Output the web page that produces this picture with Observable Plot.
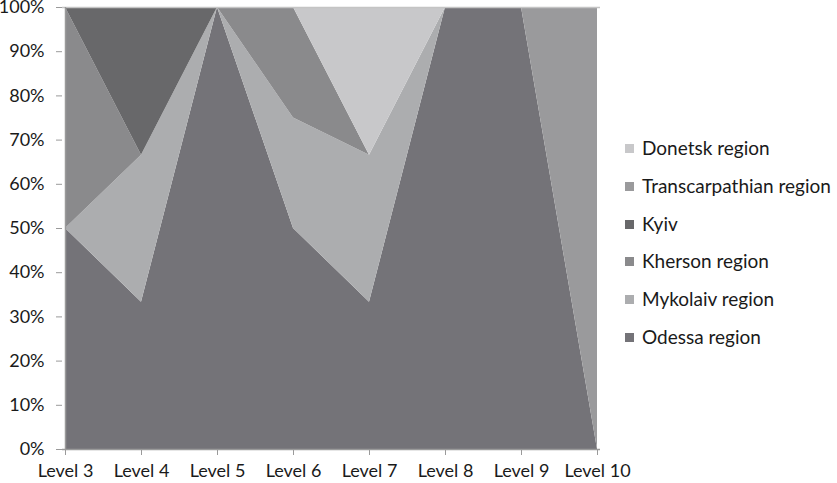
<!DOCTYPE html>
<html><head><meta charset="utf-8">
<script src="https://cdn.jsdelivr.net/npm/d3@7"></script>
<script src="https://cdn.jsdelivr.net/npm/@observablehq/plot@0.6"></script>
<style>
body{margin:0;background:#fff;overflow:hidden;}
#wrap{position:relative;width:837px;height:483px;font-family:Lato,sans-serif;color:#1a1a1a;}
#legend{position:absolute;left:625px;top:136px;font-size:19px;}
.item{height:37.8px;display:flex;align-items:flex-start;white-space:nowrap;}
.sw{width:9px;height:9px;margin-right:8px;margin-top:8px;}
</style></head>
<body><div id="wrap"><div id="legend"></div></div>
<script>
const levels = ["Level 3","Level 4","Level 5","Level 6","Level 7","Level 8","Level 9","Level 10"];
const regions = ["Odessa region","Mykolaiv region","Kherson region","Kyiv","Transcarpathian region","Donetsk region"];
const colors = ["#747378","#acadaf","#8a8a8c","#68686a","#9a9a9c","#c8c8ca"];
const odessa          = [50, 33.3, 100, 50, 33.3, 100, 100, 0];
const mykolaiv        = [0, 33.3, 0, 25, 33.3, 0, 0, 0];
const kherson         = [50, 0, 0, 25, 0, 0, 0, 0];
const kyiv            = [0, 33.4, 0, 0, 0, 0, 0, 0];
const transcarpathian = [0, 0, 0, 0, 0, 0, 0, 100];
const donetsk         = [0, 0, 0, 0, 33.4, 0, 0, 0];
const yTicks = [0,0.1,0.2,0.3,0.4,0.5,0.6,0.7,0.8,0.9,1];

const series = [odessa, mykolaiv, kherson, kyiv, transcarpathian, donetsk];
const data = [];
regions.forEach((r, i) => levels.forEach((l, j) => data.push({region: r, level: l, value: series[i][j]})));

const chart = Plot.plot({
  width: 837, height: 483,
  marginLeft: 62, marginRight: 237, marginTop: 7, marginBottom: 34,
  style: {fontFamily: "Lato, sans-serif", fontSize: "18px", color: "#1a1a1a", background: "#fff"},
  x: {type: "point", domain: levels, padding: 0, label: null},
  y: {domain: [0, 1], label: null},
  color: {domain: regions, range: colors},
  marks: [
    Plot.areaY(data, Plot.stackY({offset: "normalize", order: regions}, {x: "level", y: "value", z: "region", fill: "region", curve: "linear"})),
    Plot.ruleY([1], {stroke: "#c4c4c4", strokeWidth: 1.5}),
    Plot.ruleX([levels[0]], {stroke: "#9a9a9a", strokeWidth: 1.5}),
    Plot.ruleY([0], {stroke: "#9a9a9a", strokeWidth: 1.5}),
    Plot.axisY({ticks: yTicks, tickFormat: d3.format(".0%"), tickSize: 6, tickPadding: 12, stroke: "#9a9a9a", fill: "#1a1a1a", fontSize: 18}),
    Plot.axisX({tickSize: 6, tickPadding: 9, stroke: "#9a9a9a", fill: "#1a1a1a", fontSize: 18})
  ]
});
document.getElementById("wrap").prepend(chart);

const leg = document.getElementById("legend");
regions.slice().reverse().forEach((r) => {
  const c = colors[regions.indexOf(r)];
  const d = document.createElement("div");
  d.className = "item";
  d.innerHTML = `<span class="sw" style="background:${c}"></span><span>${r}</span>`;
  leg.appendChild(d);
});
</script></body></html>
